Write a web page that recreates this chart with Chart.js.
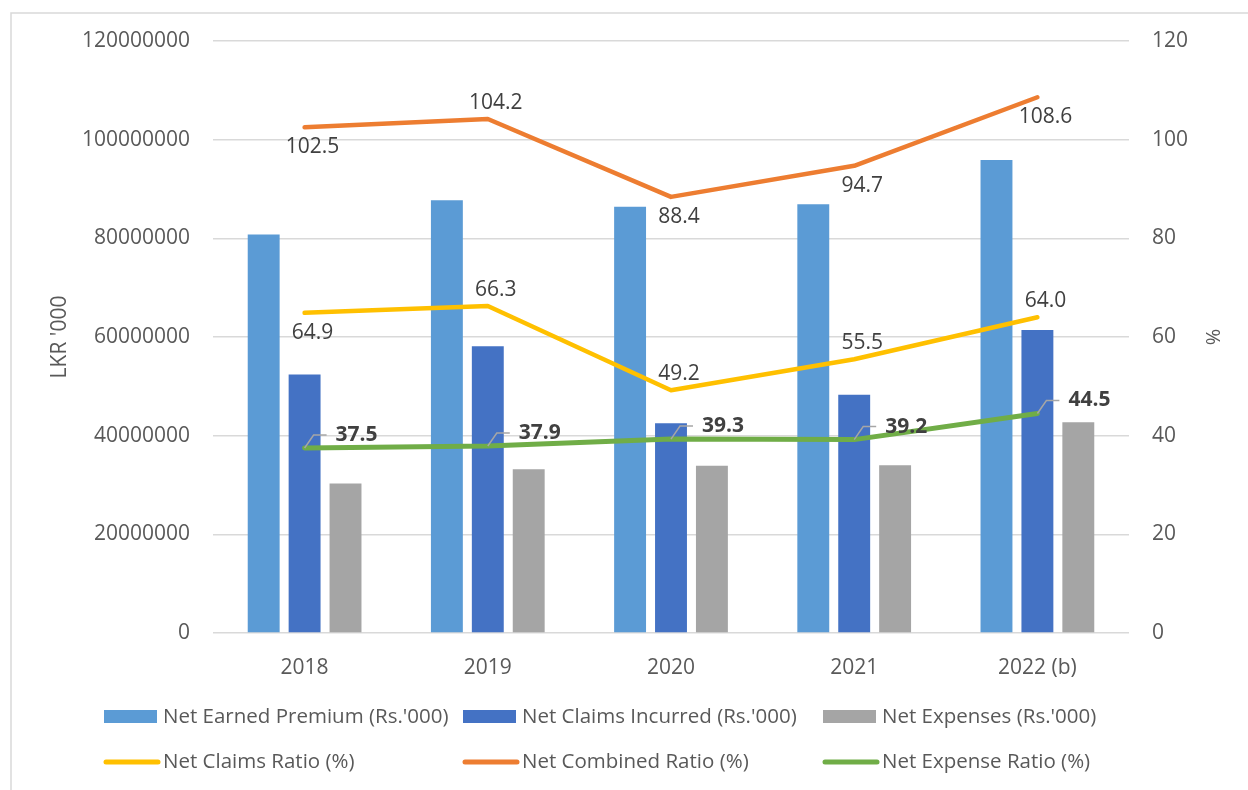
<!DOCTYPE html>
<html>
<head>
<meta charset="utf-8">
<script src="https://cdn.jsdelivr.net/npm/chart.js@4"></script>
<style>
  body { margin: 0; background: #fff; }
  canvas { display: block; }
</style>
</head>
<body>
<canvas id="chart" width="1248" height="790"></canvas>
<script>
// Data
const years = ["2018", "2019", "2020", "2021", "2022 (b)"];
const earnedPremium = [80800000, 87700000, 86400000, 86900000, 95900000];
const claimsIncurred = [52400000, 58100000, 42500000, 48300000, 61400000];
const netExpenses = [30300000, 33200000, 33900000, 34000000, 42700000];
const claimsRatio = [64.9, 66.3, 49.2, 55.5, 64.0];
const combinedRatio = [102.5, 104.2, 88.4, 94.7, 108.6];
const expenseRatio = [37.5, 37.9, 39.3, 39.2, 44.5];
const leftTicks = [0, 20000000, 40000000, 60000000, 80000000, 100000000, 120000000];
const rightTicks = [0, 20, 40, 60, 80, 100, 120];

const FONT = "'Open Sans', 'DejaVu Sans', sans-serif";
const TEXT = "#595959";

// Outer frame (only top and left edges are visible in the picture)
const framePlugin = {
  id: "frame",
  beforeDraw(chart) {
    let ctx = chart.ctx;
    ctx.save();
    ctx.fillStyle = "#fff";
    ctx.fillRect(0, 0, chart.width, chart.height);
    ctx.strokeStyle = "#d9d9d9";
    ctx.lineWidth = 1.5;
    ctx.beginPath();
    ctx.moveTo(11, chart.height);
    ctx.lineTo(11, 13);
    ctx.lineTo(chart.width, 13);
    ctx.stroke();
    ctx.restore();
  }
};

// Data labels on the ratio lines
const labelPlugin = {
  id: "lineLabels",
  afterDatasetsDraw(chart) {
    let ctx = chart.ctx;
    ctx.save();
    chart.data.datasets.forEach((ds, i) => {
      if (ds.type !== "line") return;
      let meta = chart.getDatasetMeta(i);
      meta.data.forEach((pt, j) => {
        let txt = ds.data[j].toFixed(1);
        let place = ds.labelPlace[j];
        if (place === "leader") {
          ctx.strokeStyle = "#a6a6a6";
          ctx.lineWidth = 1.5;
          ctx.beginPath();
          ctx.moveTo(pt.x, pt.y);
          ctx.lineTo(pt.x + 9, pt.y - 13);
          ctx.lineTo(pt.x + 22, pt.y - 13);
          ctx.stroke();
          ctx.font = "bold 21px " + FONT;
          ctx.fillStyle = "#404040";
          ctx.textAlign = "left";
          ctx.textBaseline = "middle";
          ctx.fillText(txt, pt.x + 31, pt.y - 13);
        } else {
          ctx.font = "21px " + FONT;
          ctx.fillStyle = "#404040";
          ctx.textAlign = "center";
          ctx.textBaseline = "middle";
          let dy = place === "above" ? -16 : 20;
          ctx.fillText(txt, pt.x + 8, pt.y + dy);
        }
      });
    });
    ctx.restore();
  }
};

// Legend laid out in three columns like the original
const legendPlugin = {
  id: "gridLegend",
  afterDraw(chart) {
    let ctx = chart.ctx;
    let cols = [104, 463, 823];
    let rows = [717, 762];
    ctx.save();
    ctx.font = "20.5px " + FONT;
    ctx.textBaseline = "middle";
    ctx.textAlign = "left";
    chart.data.datasets.forEach((ds, i) => {
      let x = cols[i % 3];
      let y = rows[Math.floor(i / 3)];
      if (ds.type === "line") {
        ctx.strokeStyle = ds.borderColor;
        ctx.lineWidth = 5;
        ctx.lineCap = "round";
        ctx.beginPath();
        ctx.moveTo(x + 2, y);
        ctx.lineTo(x + 54, y);
        ctx.stroke();
      } else {
        ctx.fillStyle = ds.backgroundColor;
        ctx.fillRect(x, y - 7, 53, 13);
      }
      ctx.fillStyle = TEXT;
      ctx.fillText(ds.label, x + 59, y);
    });
    ctx.restore();
  }
};

new Chart(document.getElementById("chart"), {
  data: {
    labels: years,
    datasets: [
      { type: "bar", label: "Net Earned Premium (Rs.'000)", data: earnedPremium, backgroundColor: "#5B9BD5", yAxisID: "y", order: 2 },
      { type: "bar", label: "Net Claims Incurred (Rs.'000)", data: claimsIncurred, backgroundColor: "#4472C4", yAxisID: "y", order: 2 },
      { type: "bar", label: "Net Expenses (Rs.'000)", data: netExpenses, backgroundColor: "#A5A5A5", yAxisID: "y", order: 2 },
      { type: "line", label: "Net Claims Ratio (%)", data: claimsRatio, borderColor: "#FFC000", borderWidth: 4.5, yAxisID: "y1", order: 1,
        labelPlace: ["below", "above", "above", "above", "above"] },
      { type: "line", label: "Net Combined Ratio (%)", data: combinedRatio, borderColor: "#ED7D31", borderWidth: 4.5, yAxisID: "y1", order: 1,
        labelPlace: ["below", "above", "below", "below", "below"] },
      { type: "line", label: "Net Expense Ratio (%)", data: expenseRatio, borderColor: "#70AD47", borderWidth: 5, yAxisID: "y1", order: 1,
        labelPlace: ["leader", "leader", "leader", "leader", "leader"] }
    ]
  },
  options: {
    responsive: false,
    animation: false,
    layout: { padding: { top: 41, bottom: 97, left: 0, right: 0 } },
    datasets: {
      bar: { categoryPercentage: 0.67, barPercentage: 0.78 },
      line: { pointRadius: 0, tension: 0, borderCapStyle: "round", borderJoinStyle: "round" }
    },
    plugins: {
      legend: { display: false },
      tooltip: { enabled: false }
    },
    scales: {
      x: {
        grid: { display: false },
        border: { display: false },
        ticks: { font: { family: FONT, size: 21 }, color: TEXT, padding: 14 },
        afterFit: s => { s.height = 60; }
      },
      y: {
        position: "left",
        min: 0,
        max: 120000000,
        afterBuildTicks: s => { s.ticks = leftTicks.map(v => ({ value: v })); },
        ticks: { font: { family: FONT, size: 21 }, color: TEXT, padding: 23, callback: v => String(v) },
        grid: { color: "#d9d9d9", lineWidth: 1.5, drawTicks: false },
        border: { display: false },
        title: { display: true, text: "LKR '000", font: { family: FONT, size: 21 }, color: TEXT, padding: { top: 47, bottom: 0 } },
        afterFit: s => { s.width = 213; }
      },
      y1: {
        position: "right",
        min: 0,
        max: 120,
        afterBuildTicks: s => { s.ticks = rightTicks.map(v => ({ value: v })); },
        ticks: { font: { family: FONT, size: 21 }, color: TEXT, padding: 23 },
        grid: { display: false, drawTicks: false },
        border: { display: false },
        title: { display: true, text: "%", font: { family: FONT, size: 20 }, color: TEXT, padding: { top: 24, bottom: 0 } },
        afterFit: s => { s.width = 119; }
      }
    }
  },
  plugins: [framePlugin, labelPlugin, legendPlugin]
});
</script>
</body>
</html>
